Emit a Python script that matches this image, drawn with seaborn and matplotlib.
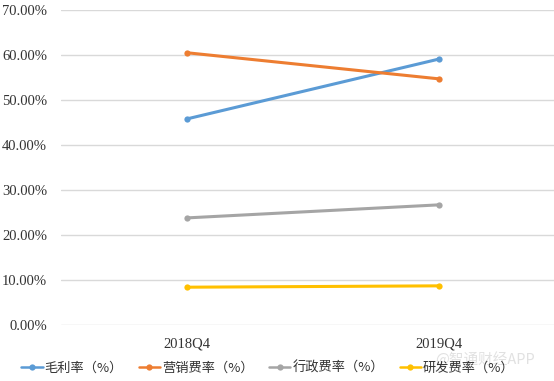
import pandas as pd
import numpy as np
import matplotlib
matplotlib.use('Agg')
import matplotlib.pyplot as plt
import seaborn as sns
from matplotlib.ticker import FuncFormatter

# data
quarters = ['2018Q4', '2019Q4']
series = ['毛利率（%）', '营销费率（%）', '行政费率（%）', '研发费率（%）']
gross_margin = [45.8, 59.1]
selling_rate = [60.5, 54.7]
admin_rate = [23.8, 26.7]
rd_rate = [8.4, 8.7]
colors = ['#5B9BD5', '#ED7D31', '#A5A5A5', '#FFC000']

df = pd.DataFrame({
    'quarter': quarters * 4,
    'series': np.repeat(series, 2),
    'value': gross_margin + selling_rate + admin_rate + rd_rate,
})

sns.set_style('white')
plt.rcParams['font.family'] = ['Noto Sans CJK SC', 'DejaVu Sans']

fig = plt.figure(figsize=(5.54, 3.81), dpi=100)
ax = fig.add_axes([61 / 554, 56 / 381, 504 / 554, 315 / 381])

sns.lineplot(data=df, x='quarter', y='value', hue='series', hue_order=series,
             palette=colors, marker='o', markersize=4.5, markeredgewidth=0,
             linewidth=2.2, ax=ax, legend=True)

ax.set_xlim(-0.5, 1.5)
ax.set_ylim(0, 70)
ax.set_yticks(np.arange(0, 71, 10))
ax.yaxis.set_major_formatter(FuncFormatter(lambda v, p: f'{v:.2f}%'))
ax.grid(axis='y', color='#D9D9D9', linewidth=1)
ax.grid(axis='x', visible=False)
for s in ax.spines.values():
    s.set_visible(False)
ax.tick_params(axis='y', length=0, pad=10)
ax.tick_params(axis='x', length=0, pad=9)
for lab in ax.get_yticklabels() + ax.get_xticklabels():
    lab.set_fontfamily('Liberation Serif')
    lab.set_fontsize(10.5)
    lab.set_color('#333333')
ax.set_xlabel('')
ax.set_ylabel('')

# faint watermark, sits just above the last legend entry as in the reference
fig.text(435 / 554, 1 - 359 / 381, '@智通财经APP', ha='left', va='center', fontsize=10.5,
         color='#DADADA', alpha=0.8)

handles, labels = ax.get_legend_handles_labels()
ax.get_legend().remove()
for h in handles:
    h.set_linewidth(1.8)
fig.legend(handles, labels, loc='center', bbox_to_anchor=(268 / 554, 13 / 381), ncol=4,
           frameon=False, fontsize=9.5, handlelength=1.6, handletextpad=0.15,
           columnspacing=1.2, labelcolor='#333333')

fig.savefig('out.png', dpi=100)
